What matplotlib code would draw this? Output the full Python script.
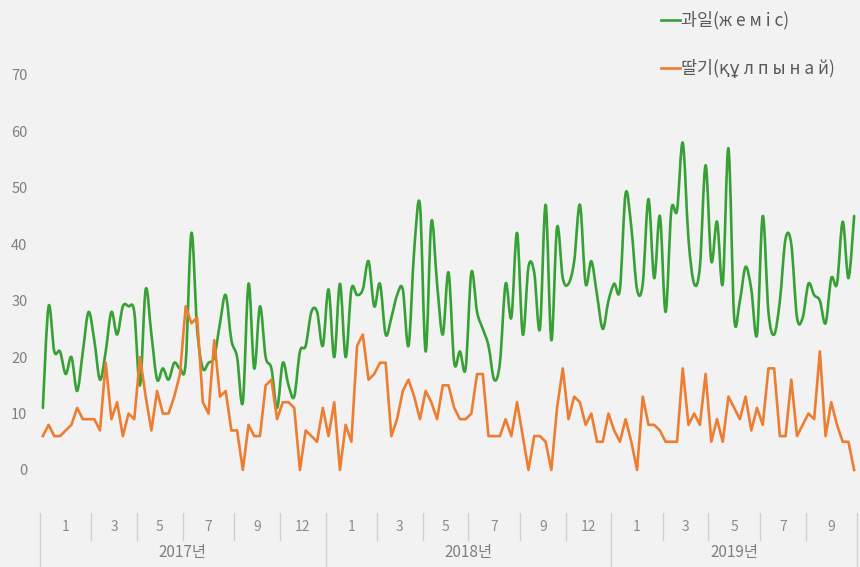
import matplotlib
matplotlib.use("Agg")
import matplotlib.pyplot as plt
import matplotlib.transforms as mtransforms
from matplotlib.path import Path
from matplotlib.patches import PathPatch
from matplotlib.lines import Line2D
import numpy as np

plt.rcParams['font.family'] = ['Noto Sans CJK KR', 'DejaVu Sans']

# weekly values 2017-01 .. 2019-10
fruit = [11, 29, 21, 21, 17, 20, 14, 21, 28, 23, 16, 21, 28, 24, 29, 29, 28, 15, 32, 24, 16,
         18, 16, 19, 18, 19, 42, 25, 18, 19, 20, 26, 31, 23, 20, 12, 33, 18, 29, 20, 18,
         11, 19, 15, 13, 21, 22, 28, 28, 22, 32, 20, 33, 20, 32, 31, 32, 37, 29, 33, 24,
         27, 31, 32, 22, 39, 47, 21, 44, 33, 24, 35, 19, 21, 18, 35, 28, 25, 22, 16, 19,
         33, 27, 42, 24, 36, 35, 25, 47, 23, 43, 34, 33, 37, 47, 33, 37, 31, 25, 30, 33,
         32, 49, 43, 32, 33, 48, 34, 45, 28, 46, 46, 58, 41, 33, 36, 54, 37, 44, 33, 57,
         27, 30, 36, 32, 24, 45, 28, 24, 30, 41, 40, 27, 27, 33, 31, 30, 26, 34, 33, 44, 34, 45]
strawberry = [6, 8, 6, 6, 7, 8, 11, 9, 9, 9, 7, 19, 9, 12, 6, 10, 9, 20, 13, 7, 14,
              10, 10, 13, 17, 29, 26, 27, 12, 10, 23, 13, 14, 7, 7, 0, 8, 6, 6, 15, 16,
              9, 12, 12, 11, 0, 7, 6, 5, 11, 6, 12, 0, 8, 5, 22, 24, 16, 17, 19, 19,
              6, 9, 14, 16, 13, 9, 14, 12, 9, 15, 15, 11, 9, 9, 10, 17, 17, 6, 6, 6,
              9, 6, 12, 6, 0, 6, 6, 5, 0, 11, 18, 9, 13, 12, 8, 10, 5, 5, 10, 7,
              5, 9, 5, 0, 13, 8, 8, 7, 5, 5, 5, 18, 8, 10, 8, 17, 5, 9, 5, 13,
              11, 9, 13, 7, 11, 8, 18, 18, 6, 6, 16, 6, 8, 10, 9, 21, 6, 12, 8, 5, 5, 0]

years = ['2017년', '2018년', '2019년']
month_labels = [['1', '3', '5', '7', '9', '12'],
                ['1', '3', '5', '7', '9', '12'],
                ['1', '3', '5', '7', '9']]
# number of weekly points under each month label
group_sizes = [[9, 8, 8, 9, 8, 8],
               [9, 8, 8, 9, 8, 8],
               [9, 8, 9, 8, 9]]

series_names = ['과일(ж е м і с)', '딸기(құ л п ы н а й)']
colors = ['#37a136', '#ed7d31']
bg = '#f2f2f2'


def smooth_path(x, y):
    # Catmull-Rom style bezier through every point (like Excel smoothed line)
    verts = [(x[0], y[0])]
    codes = [Path.MOVETO]
    n = len(x)
    for i in range(n - 1):
        x0, y0 = (x[i - 1], y[i - 1]) if i > 0 else (x[i], y[i])
        x3, y3 = (x[i + 2], y[i + 2]) if i + 2 < n else (x[i + 1], y[i + 1])
        c1 = (x[i] + (x[i + 1] - x0) / 6, y[i] + (y[i + 1] - y0) / 6)
        c2 = (x[i + 1] - (x3 - x[i]) / 6, y[i + 1] - (y3 - y[i]) / 6)
        verts += [c1, c2, (x[i + 1], y[i + 1])]
        codes += [Path.CURVE4] * 3
    return Path(verts, codes)


fig = plt.figure(figsize=(8.6, 5.67), dpi=100, facecolor=bg)
ax = fig.add_axes([40 / 860, 1 - 475.6 / 567, 817 / 860, 411.9 / 567])
ax.set_facecolor(bg)

x = np.arange(len(fruit))
ax.add_patch(PathPatch(smooth_path(x, fruit), facecolor='none', edgecolor=colors[0],
                       lw=1.9, capstyle='round', joinstyle='round'))
ax.plot(x, strawberry, color=colors[1], lw=1.9, solid_joinstyle='round')

ax.set_xlim(-0.5, len(fruit) - 0.5)
ax.set_ylim(-1, 72)
ax.set_yticks(range(0, 71, 10))
ax.tick_params(axis='y', length=0, pad=9, labelsize=10.5, labelcolor='#7f7f7f')
ax.set_xticks([])
for s in ax.spines.values():
    s.set_visible(False)

# two-level category axis
trans = mtransforms.blended_transform_factory(ax.transData, fig.transFigure)
sep_color = '#d0d0d0'
y_top = 1 - 513 / 567
y_mid = 1 - 540 / 567
pos = -0.5
for yi, year in enumerate(years):
    start = pos
    for lab, n in zip(month_labels[yi], group_sizes[yi]):
        if pos != start:
            ax.plot([pos, pos], [y_top, y_mid], color=sep_color, lw=1, transform=trans, clip_on=False)
        ax.text(pos + n / 2, 1 - 527 / 567, lab, transform=trans, ha='center', va='center',
                fontsize=10, color='#8c8c8c')
        pos += n
    ax.plot([start, start], [y_top, 0], color=sep_color, lw=1, transform=trans, clip_on=False)
    ax.text((start + pos) / 2, 1 - 553 / 567, year, transform=trans, ha='center', va='center',
            fontsize=11, color='#7f7f7f')
ax.plot([pos, pos], [y_top, 0], color=sep_color, lw=1, transform=trans, clip_on=False)

# legend at top right
for name, c, ypx in zip(series_names, colors, [20, 68]):
    yf = 1 - ypx / 567
    fig.add_artist(Line2D([661 / 860, 680 / 860], [yf, yf], color=c, lw=1.9))
    fig.text(681 / 860, yf, name, ha='left', va='center', fontsize=12.5, color='#595959')

fig.savefig('out.png', dpi=100, facecolor=bg)
